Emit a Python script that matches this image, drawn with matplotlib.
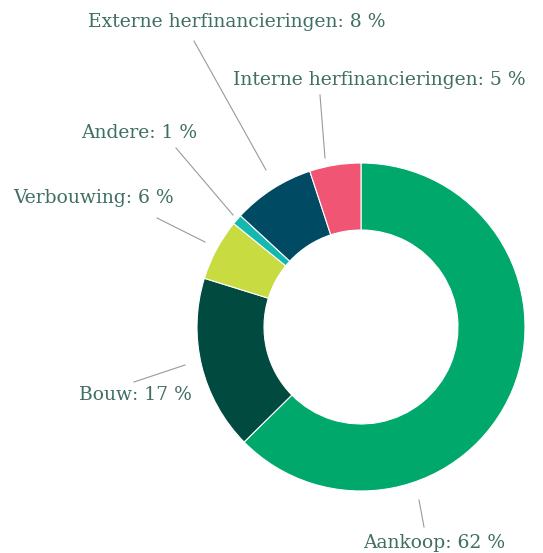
import matplotlib
matplotlib.use('Agg')
import matplotlib.pyplot as plt

labels = ['Aankoop', 'Bouw', 'Verbouwing', 'Andere',
          'Externe herfinancieringen', 'Interne herfinancieringen']
shares = [62, 17, 6, 1, 8, 5]
colors = ['#00a86b', '#004a40', '#c8db40', '#14b8ae', '#004b63', '#f05574']

# label layout in pixels (x, y from top), alignment, connector (outer, inner)
layout = [
    ((363, 543), 'left', (424, 527), (419, 500)),
    ((192, 395), 'right', (134, 382), (185, 365)),
    ((174, 198), 'right', (157, 218), (205, 242)),
    ((197, 133), 'right', (176, 148), (233, 215)),
    ((237, 22), 'center', (194, 41), (266, 170)),
    ((379, 80), 'center', (320, 95), (325, 158)),
]

W, H = 543, 553
fig = plt.figure(figsize=(W / 100, H / 100), dpi=100)
ax = fig.add_axes([0, 0, 1, 1])
ax.set_xlim(0, W)
ax.set_ylim(0, H)
ax.axis('off')

ax.pie(shares, colors=colors, startangle=90, counterclock=False,
       center=(361, H - 327), radius=164,
       wedgeprops=dict(width=67, edgecolor='white', linewidth=0.8))

txt_color = '#3f6e63'
for lab, val, (pos, ha, p_out, p_in) in zip(labels, shares, layout):
    ax.plot([p_out[0], p_in[0]], [H - p_out[1], H - p_in[1]],
            color='#9a9a9a', lw=0.8)
    ax.text(pos[0], H - pos[1], '%s: %d %%' % (lab, val), ha=ha, va='center',
            fontsize=13.5, family='DejaVu Serif', color=txt_color)

ax.set_xlim(0, W)
ax.set_ylim(0, H)
fig.savefig('out.png', dpi=100, facecolor='white')
